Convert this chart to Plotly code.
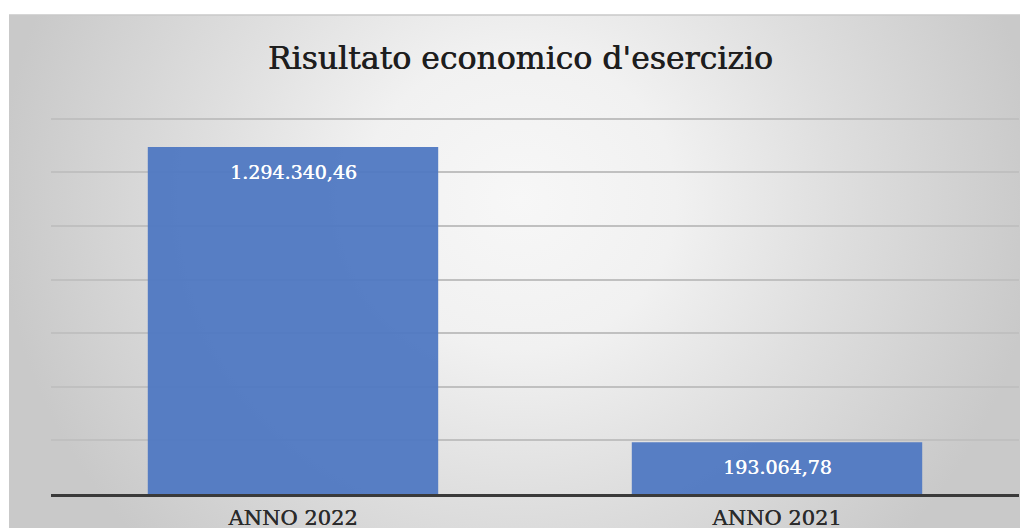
import plotly.graph_objects as go

categories = ["ANNO 2022", "ANNO 2021"]
values = [1294340.46, 193064.78]
title_text = "Risultato economico d'esercizio"

W, H = 1020, 530


def it_fmt(v):
    s = f"{v:,.2f}"
    return s.replace(",", "X").replace(".", ",").replace("X", ".")


fig = go.Figure()

# decorative radial-gradient background (chart area)
fig.add_trace(go.Scatter(
    x=[-0.01, 1.02, 1.02, -0.01, -0.01],
    y=[-0.33, -0.33, 1.61, 1.61, -0.33],
    mode="lines", line=dict(width=0), fill="toself",
    fillgradient=dict(type="radial",
                      colorscale=[[0, "#f7f7f7"], [0.3, "#f1f1f1"],
                                  [0.6, "#dfdfdf"], [1, "#c9c9c9"]]),
    hoverinfo="skip", showlegend=False, xaxis="x", yaxis="y",
))

fig.add_trace(go.Bar(
    x=categories, y=values, width=0.6,
    marker=dict(color="#4f78c2", opacity=0.95, line=dict(width=0)),
    showlegend=False, xaxis="x2", yaxis="y2",
))

for c, v in zip(categories, values):
    fig.add_annotation(
        x=c, y=v, xref="x2", yref="y2", text=it_fmt(v), showarrow=False,
        yanchor="top", yshift=-12,
        font=dict(family="DejaVu Serif", size=19, color="#ffffff",
                  shadow="0.4px 0px 0px #ffffff"),
    )

y_top = 1420000
plot_bottom_px = 496
px_per_unit = 377 / 1400000
plot_top_px = plot_bottom_px - y_top * px_per_unit

fig.update_layout(
    width=W, height=H,
    margin=dict(l=0, r=0, t=0, b=0),
    paper_bgcolor="#ffffff", plot_bgcolor="rgba(0,0,0,0)",
    title=dict(text=title_text, x=0.51, xanchor="center",
               y=1 - 58 / H, yanchor="middle",
               font=dict(family="DejaVu Serif", size=31.5, color="#1e1e1e",
                         shadow="0.6px 0px 0px #1e1e1e")),
    xaxis=dict(domain=[9 / W, 1], range=[0, 1], visible=False, fixedrange=True),
    yaxis=dict(domain=[0, 1 - 15 / H], range=[0, 1], visible=False, fixedrange=True),
    xaxis2=dict(domain=[51 / W, 1019 / W], anchor="y2",
                showline=True, linecolor="#3a3a3a", linewidth=3,
                showgrid=False, ticks="", ticklabelstandoff=3,
                tickfont=dict(family="DejaVu Serif", size=21, color="#2b2b2b",
                              shadow="0.4px 0px 0px #2b2b2b")),
    yaxis2=dict(domain=[(H - plot_bottom_px) / H, (H - plot_top_px) / H], anchor="x2",
                range=[0, y_top],
                tick0=0, dtick=200000, showgrid=True, gridcolor="#c0c0c0", gridwidth=1.5,
                showticklabels=False, zeroline=False),
    shapes=[dict(type="line", xref="paper", yref="paper",
                 x0=9 / W, x1=1, y0=1 - 15 / H, y1=1 - 15 / H,
                 line=dict(color="#c8c8c8", width=1.5))],
)

fig.write_html("out.html", config={"displayModeBar": False},
               post_script="document.body.style.margin='0';document.body.style.overflow='hidden';")
